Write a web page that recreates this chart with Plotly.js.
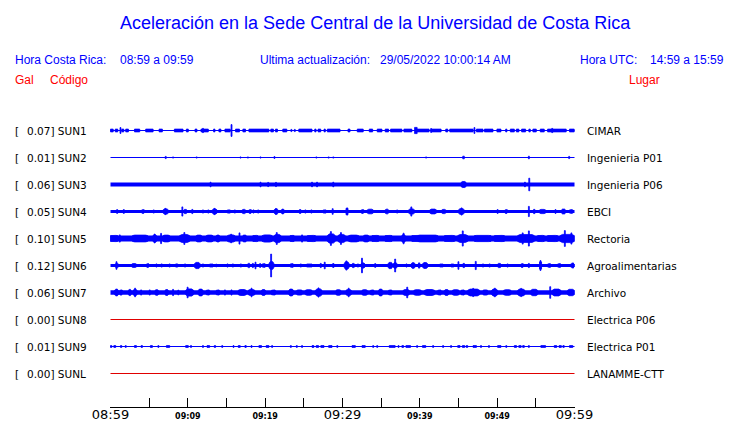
<!DOCTYPE html>
<html><head><meta charset="utf-8">
<script src="https://cdn.plot.ly/plotly-3.0.1.min.js"></script>
<style>html,body{margin:0;padding:0;background:#fff}#chart{width:740px;height:423px}</style>
</head><body><div id="chart"></div>
<script>
// ---------------- data ----------------
const codes = ['SUN1','SUN2','SUN3','SUN4','SUN5','SUN6','SUN7','SUN8','SUN9','SUNL'];
const galMax = [0.07, 0.01, 0.06, 0.05, 0.10, 0.12, 0.06, 0.00, 0.01, 0.00];
const places = ['CIMAR','Ingenieria P01','Ingenieria P06','EBCI','Rectoria','Agroalimentarias','Archivo','Electrica P06','Electrica P01','LANAMME-CTT'];
const tickMinutes = [0,5,10,15,20,25,30,35,40,45,50,55,60];
const tickLabels = ['08:59','','09:09','','09:19','','09:29','','09:39','','09:49','','09:59'];
// background (continuous) half-amplitude of each trace, display units
const baseAmp = [0.5, 0.5, 2.0, 1.6, 2.9, 1.5, 2.2, 0.5, 0.5, 0.5];
// bursts: [start minute, end minute, half-amplitude]
const sun1Bursts = [[0,0.35,1.8],[0.61,0.94,1.8],[1.29,1.29,3.3],[1.46,1.72,1.8],[1.97,2.32,1.8],[3.10,3.78,1.8],[4.55,5.51,1.8],[6.28,6.71,1.8],[8.26,9.38,1.8],[9.81,10.06,1.8],[10.93,11.18,1.8],[11.70,12.65,1.8],[11.96,11.96,2.5],[13.33,13.51,1.8],[14.02,14.28,1.8],[14.80,15.48,1.8],[15.65,15.65,6.3],[16.17,16.68,1.8],[17.12,17.46,1.8],[17.90,20.48,1.8],[20.73,21.07,1.8],[21.33,21.59,1.8],[22.28,22.80,1.8],[23.39,23.39,1.5],[23.83,23.83,1.5],[24.35,26.06,1.8],[26.41,26.58,1.8],[26.84,27.19,1.8],[27.61,27.78,1.8],[28.04,29.68,1.8],[30.71,30.97,1.8],[31.91,32.68,1.8],[33.46,33.90,1.8],[34.49,35.10,1.8],[35.52,35.96,1.8],[36.22,37.68,1.8],[37.94,38.97,1.8],[39.32,39.65,3.5],[39.65,41.20,1.8],[41.46,41.46,2.3],[41.46,42.75,1.8],[43.35,43.61,1.8],[43.87,46.88,1.8],[47.06,47.06,3.3],[47.32,48.17,1.8],[48.35,49.46,1.8],[49.97,50.49,1.8],[51.10,51.26,1.8],[51.70,52.22,1.8],[52.48,52.81,1.8],[53.16,53.68,1.8],[54.10,54.28,1.8],[54.62,55.06,1.8],[55.57,56.09,1.8],[56.52,58.93,1.8],[57.12,57.12,2.5],[59.35,59.96,1.8]];
const sun2Bursts = [[7.14,7.14,1.5],[8.09,8.09,1],[11.14,11.14,1],[16.81,16.81,1],[17.77,17.77,1],[19.40,19.40,1],[21.20,21.20,1.3],[26.62,26.62,1],[28.21,28.21,1],[28.81,28.81,1],[40.81,40.81,1],[45.55,45.75,1.7],[54.10,54.10,1.7],[59.31,59.31,1.5]];
const sun3Bursts = [[12.94,12.94,2.7],[19.40,19.40,2.7],[20.39,20.39,2.5],[21.40,21.40,2.5],[26.06,26.06,2.7],[26.71,26.71,2.7],[28.81,28.81,2.7],[45.33,45.98,3.4],[53.59,53.59,2.7],[54.15,54.15,6.7]];
const sun4Bursts = [[0.86,0.86,2.3],[1.72,1.72,2.3],[4.04,4.39,2.3],[5.59,5.59,2],[6.80,7.48,3],[7.1,7.1,3.5],[9.29,9.29,5],[9.55,9.81,2.5],[10.58,10.58,2.5],[11.96,11.96,2],[12.65,12.65,2],[13.16,13.77,3],[13.45,13.45,3.5],[15.13,15.48,2],[16.08,16.08,2],[17.03,17.46,2.5],[17.90,18.24,2.3],[18.49,18.49,2],[19.10,19.10,2],[21.16,21.68,3],[21.4,21.4,3.3],[22.10,22.45,2.8],[24.43,24.61,2.3],[25.20,25.20,2],[25.98,25.98,2],[27.52,27.87,2],[28.73,28.73,3.2],[30.45,30.71,3.5],[30.6,30.6,4],[32.43,32.77,2.3],[33.20,33.97,2.7],[35.52,35.96,2.7],[37.07,37.07,2],[38.54,39.32,3],[38.90,38.90,5],[41.29,42.15,2.8],[42.84,43.35,2.5],[44.99,45.77,3.2],[45.4,45.4,4],[50.06,50.06,2.3],[51.01,51.35,2.3],[54.10,54.10,5.5],[54.71,54.88,2.5],[55.48,56.26,2.5],[57.55,57.55,2.3],[58.32,58.84,2.8],[59.35,59.78,2.3]];
const sun5Bursts = [[0,0.94,3.5],[1.20,1.20,4],[2.84,4.81,3.8],[5.51,5.94,4.2],[5.7,5.7,4.8],[6.54,6.54,5.5],[6.80,7.65,3.8],[8.94,10.23,4.3],[9.55,9.55,6.3],[11.10,11.78,3.8],[12.39,13.25,3.8],[13.68,14.10,3.8],[15.13,16.08,4],[15.6,15.6,4.7],[16.68,16.68,6],[17.12,17.55,3.8],[18.41,19.05,3.5],[19.61,20.90,4],[21.16,22.03,4.5],[21.5,21.5,6.3],[23.23,23.74,3.5],[24.77,24.77,4],[25.46,26.49,3.5],[28.04,29.07,5],[28.5,28.5,7.3],[29.42,30.36,4.5],[29.8,29.8,6.3],[30.80,32.09,3.8],[32.73,33.38,3.8],[33.81,34.67,3.5],[35.52,36.39,3.5],[37.68,38.10,4.3],[37.9,37.9,5.7],[38.97,40.26,3.5],[39.74,42.32,3.8],[43.19,44.48,3.5],[44.90,46.19,4.3],[45.55,45.55,8],[47.06,49.20,3.5],[49.64,50.93,3.5],[52.65,54.80,4.3],[53.3,53.3,6],[54.10,54.10,8],[55.23,56.09,3.5],[56.52,57.81,3.5],[58.15,59.96,4.5],[58.75,58.75,8.3],[59.6,59.6,6]];
const sun6Bursts = [[0.61,1.03,2.5],[0.77,0.77,4.2],[2.75,3.35,2.3],[4.65,4.99,2.3],[5.94,5.94,2],[6.62,6.62,2],[7.65,7.65,2],[8.43,8.69,2],[9.64,9.64,2],[10.84,11.61,3.5],[11.96,11.96,2],[12.82,13.25,2],[13.68,13.68,1.8],[15.13,15.13,2],[15.83,15.83,2],[16.86,16.86,2],[17.72,18.06,2.5],[18.41,18.41,2.5],[18.75,18.75,3.7],[19.35,19.35,2.3],[19.61,20.04,2.3],[20.47,21.16,4.2],[20.77,20.77,11.8],[23.23,23.66,2.3],[24.61,24.61,2],[25.37,26.06,2],[27.19,27.19,2.5],[27.70,27.70,3.7],[28.73,28.90,2.3],[30.19,30.88,4],[30.5,30.5,5],[31.23,31.57,2.5],[32.00,32.00,2],[32.39,32.90,3],[32.52,32.52,7.7],[34.23,34.23,2.3],[35.87,36.48,3.5],[36.56,37.07,3.2],[36.81,36.81,6.8],[38.28,38.28,2],[38.88,39.39,3.2],[39.82,40.00,3],[40.34,41.03,3.3],[42.58,43.01,2],[44.04,44.39,2],[44.99,44.99,4.2],[45.59,45.77,2.5],[47.23,47.23,4.5],[48.17,48.17,2],[49.03,49.03,2],[50.06,50.49,2.5],[51.35,51.35,2],[53.07,53.42,2.3],[54.10,54.10,2.5],[55.48,55.74,4],[55.6,55.6,5.3],[56.52,56.94,2.3],[57.81,58.24,2.3],[59.50,59.96,2.5],[59.80,59.80,3]];
const sun7Bursts = [[0.52,1.03,3.5],[0.8,0.8,3.8],[1.20,1.55,3],[2.32,2.67,3.5],[2.92,3.44,3.3],[3.18,3.18,4.7],[3.96,3.96,3],[5.07,5.07,3],[5.77,6.19,3.2],[7.06,7.48,3.3],[8.09,8.09,3.5],[8.77,8.77,2.8],[9.72,10.75,4],[9.97,9.97,5.7],[11.35,11.96,3.8],[12.39,12.82,3],[13.68,14.10,3],[14.80,14.80,3],[15.65,15.65,3],[16.52,17.55,3.4],[17.81,18.67,3.3],[18.24,18.24,4.7],[19.53,20.04,3.3],[20.82,21.33,3],[23.06,23.66,3.8],[24.09,24.77,3],[25.20,26.06,3.2],[26.49,27.35,4],[26.9,26.9,5],[29.16,29.77,3.2],[30.45,31.14,3.3],[30.80,30.80,4.7],[32.52,33.20,3.2],[33.63,34.06,3],[34.67,35.19,3.8],[35.96,36.39,3],[37.85,38.63,3.3],[38.37,38.37,5.7],[39.23,40.17,3.2],[40.61,41.90,3.4],[42.32,42.75,3],[43.19,43.71,3.3],[44.22,45.07,3.2],[45.33,45.77,3],[46.19,47.74,3.8],[46.9,46.9,4.5],[48.17,48.77,3],[49.29,50.06,3.8],[49.7,49.7,4.7],[50.84,51.78,3.2],[52.65,53.59,3.8],[53.1,53.1,4.5],[54.36,55.23,3.6],[56.86,56.86,6.2],[57.12,58.24,3.8],[59.10,59.96,3.6]];
const sun8Bursts = [];
const sun9Bursts = [[0,0.17,1.3],[0.43,0.68,1.3],[1.29,1.46,1.3],[1.97,1.97,1.3],[3.10,3.35,1.3],[3.96,4.13,1.3],[5.16,5.42,1.3],[6.19,6.19,1.3],[7.23,7.65,1.3],[9.72,10.06,1.3],[10.41,10.41,1.3],[11.96,11.96,1.3],[12.48,12.82,1.3],[13.42,13.59,1.3],[14.45,14.45,1.3],[15.91,15.91,1.3],[16.52,16.77,1.3],[17.38,17.55,1.3],[18.24,18.24,1.3],[19.19,19.53,1.3],[20.13,20.48,1.3],[20.90,20.90,1.3],[23.32,23.32,1.3],[24.09,24.09,1.3],[24.77,24.77,1.3],[26.06,26.30,1.3],[26.60,26.90,1.3],[27.20,27.61,1.3],[28.21,28.65,1.3],[29.33,29.33,1.3],[31.23,31.66,1.3],[32.52,32.94,1.3],[33.97,33.97,1.3],[34.49,34.49,1.3],[36.04,36.81,1.3],[37.25,37.25,1.3],[37.68,37.90,1.3],[38.20,38.80,1.3],[39.65,39.65,1.3],[40.34,40.77,1.3],[41.72,41.72,1.3],[43.01,43.01,1.3],[44.04,44.04,1.3],[44.90,45.20,1.3],[45.50,45.80,1.3],[46.00,46.19,1.3],[46.88,47.32,1.3],[47.91,47.91,1.3],[48.94,48.94,1.3],[50.06,50.49,1.3],[51.18,51.18,1.3],[52.22,52.50,1.3],[52.80,53.10,1.3],[53.30,53.51,1.3],[54.10,54.10,1.3],[55.65,56.26,1.3],[57.38,57.70,1.3],[58.00,58.30,1.3],[58.50,58.67,1.3],[59.35,59.78,1.3]];
const sunLBursts = [];
const bursts = [sun1Bursts,sun2Bursts,sun3Bursts,sun4Bursts,sun5Bursts,sun6Bursts,sun7Bursts,sun8Bursts,sun9Bursts,sunLBursts];

// ---------------- styling / layout ----------------
const BLUE = '#0000ff', RED = '#ff0000';
const lineColors = codes.map((c,i)=> (i===7||i===9) ? '#e00000' : BLUE);
const W = 740, H = 423, L = 110, R = 575, T = 115, B = 407;
const pxPerMin = 464/60;
const rowY = i => 130.5 + 27*i;   // row centre (y axis is in pixel-like units)
const px2paperX = px => (px - L)/(R - L);
const px2paperY = py => (B - py)/(B - T);

const traces = [];
codes.forEach((code, i) => {
  const c = rowY(i);
  const bh = baseAmp[i];
  traces.push({x:[0,60], y:[c,c], mode:'lines', hoverinfo:'skip', showlegend:false,
    line:{color:lineColors[i], width:Math.max(1, 2*bh)}});
  const bx = [], by = [];
  bursts[i].forEach(b => {
    let t0 = b[0], t1 = b[1];
    if (t1 - t0 < 0.12) { const m = (t0+t1)/2; t0 = m - 0.06; t1 = m + 0.06; }
    t0 = Math.max(0, t0); t1 = Math.min(60, t1);
    const a = Math.max(0.3, b[2] - 0.4);
    const w = t1 - t0;
    if (bh >= 1.5 && w > 0.3) {
      // spindle-shaped burst envelope
      const tp = Math.min(0.25*w, 0.3);
      const lo = Math.min(bh, a);
      bx.push(t0, t0+tp, t1-tp, t1, t1, t1-tp, t0+tp, t0, t0, null);
      by.push(c-lo, c-a, c-a, c-lo, c+lo, c+a, c+a, c+lo, c-lo, null);
    } else {
      bx.push(t0, t1, t1, t0, t0, null);
      by.push(c-a, c-a, c+a, c+a, c-a, null);
    }
  });
  if (bx.length) traces.push({x:bx, y:by, mode:'lines', fill:'toself', fillcolor:lineColors[i],
    hoverinfo:'skip', showlegend:false, line:{color:lineColors[i], width:0.8}});
});

const ticktext = tickLabels.map((t, k) => {
  if (!t) return '';
  const big = (k===0 || k===6 || k===12);
  return big ? t : '<span style="font-size:8px;font-weight:bold">'+t+'</span>';
});

const hdrFont = {family:'Liberation Sans, Arial, sans-serif', size:12, color:BLUE};
const redFont = {family:'Liberation Sans, Arial, sans-serif', size:12, color:RED};
const lblFont = {family:'DejaVu Sans, sans-serif', size:10.5, color:'#000'};
const ann = [];
function addText(text, px, py, font, xanchor) {
  ann.push({text, xref:'paper', yref:'paper', x:px2paperX(px), y:px2paperY(py),
    xanchor:xanchor||'left', yanchor:'middle', showarrow:false, font});
}
addText('Hora Costa Rica:', 13, 60, hdrFont);
addText('08:59 a 09:59', 118, 60, hdrFont);
addText('Ultima actualización:', 258, 60, hdrFont);
addText('29/05/2022 10:00:14 AM', 378, 60, hdrFont);
addText('Hora UTC:', 578, 60, hdrFont);
addText('14:59 a 15:59', 648, 60, hdrFont);
addText('Gal', 13, 80, redFont);
addText('Código', 48, 80, redFont);
addText('Lugar', 627, 80, redFont);
codes.forEach((code, i) => {
  const py = rowY(i);
  addText('[', 13, py, lblFont);
  addText(galMax[i].toFixed(2) + '] ' + code, 25, py, lblFont);
  addText(places[i], 585, py, lblFont);
});

const layout = {
  width:W, height:H, paper_bgcolor:'#fff', plot_bgcolor:'#fff', showlegend:false,
  margin:{l:L, r:W-R, t:T, b:H-B, pad:0},
  title:{text:'Aceleración en la Sede Central de la Universidad de Costa Rica',
    xref:'container', x:0.507, xanchor:'center', yref:'container', y:1-23/H, yanchor:'middle',
    font:{family:'Liberation Sans, Arial, sans-serif', size:18, color:BLUE}},
  xaxis:{range:[-0.5/pxPerMin, 60+0.5/pxPerMin], tickvals:tickMinutes, ticktext:ticktext,
    ticks:'inside', ticklen:9, tickwidth:1, tickcolor:'#000', showline:true, linecolor:'#000', linewidth:1,
    showgrid:false, zeroline:false, fixedrange:true, ticklabelstandoff:-5,
    tickfont:{family:'DejaVu Sans, sans-serif', size:13, color:'#000'}},
  yaxis:{range:[B, T], visible:false, showgrid:false, zeroline:false, fixedrange:true},
  annotations:ann
};
Plotly.newPlot('chart', traces, layout, {displayModeBar:false, staticPlot:true});
</script></body></html>
